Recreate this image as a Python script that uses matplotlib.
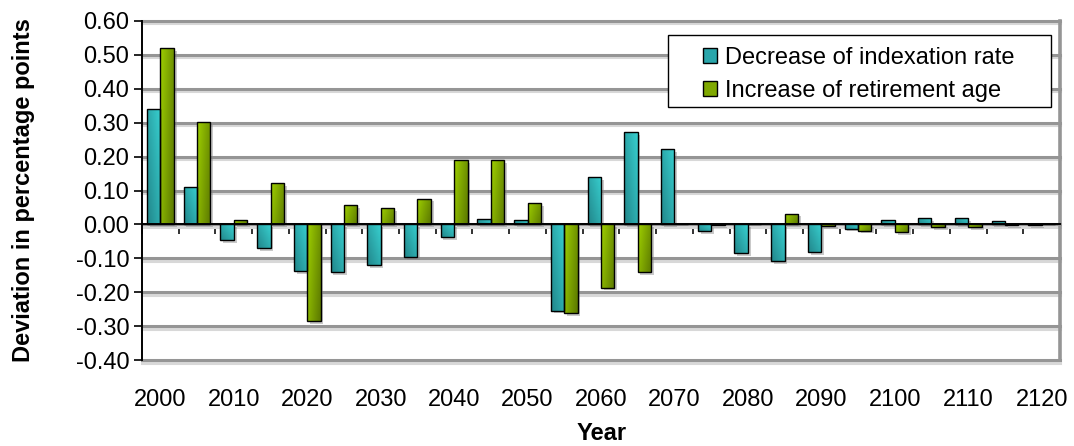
import numpy as np
import matplotlib
matplotlib.use("Agg")
import matplotlib.pyplot as plt
import matplotlib.patheffects as pe
from matplotlib.patches import Rectangle
from matplotlib.colors import to_rgb

plt.rcParams['font.family'] = ['Liberation Sans', 'DejaVu Sans']
plt.rcParams['axes.unicode_minus'] = False

years = [2000, 2005, 2010, 2015, 2020, 2025, 2030, 2035, 2040, 2045, 2050, 2055,
         2060, 2065, 2070, 2075, 2080, 2085, 2090, 2095, 2100, 2105, 2110, 2115, 2120]
indexation = [0.340, 0.111, -0.047, -0.070, -0.138, -0.141, -0.120, -0.096, -0.037,
              0.016, 0.013, -0.254, 0.140, 0.271, 0.222, -0.020, -0.085, -0.107,
              -0.082, -0.012, 0.013, 0.019, 0.018, 0.009, -0.002]
retirement = [0.520, 0.302, 0.012, 0.121, -0.284, 0.056, 0.048, 0.076, 0.190,
              0.190, 0.062, -0.261, -0.186, -0.140, 0.002, -0.003, 0.002, 0.032,
              -0.005, -0.018, -0.022, -0.008, -0.008, -0.003, 0.001]
series_names = ["Decrease of indexation rate", "Increase of retirement age"]
label_years = [2000, 2010, 2020, 2030, 2040, 2050, 2060, 2070, 2080, 2090, 2100, 2110, 2120]
yticks = [0.6, 0.5, 0.4, 0.3, 0.2, 0.1, 0.0, -0.1, -0.2, -0.3, -0.4]

W, H = 1074, 446
fig = plt.figure(figsize=(W / 100, H / 100), dpi=100)
ax = fig.add_axes([142 / W, 1 - 360.3 / H, (1060 - 142) / W, (360.3 - 20.7) / H])

FS = 17
x = np.arange(len(years))
bw = 0.365

teal_light, teal_dark = np.array(to_rgb('#38d0d0')), np.array(to_rgb('#1a6c72'))
green_light, green_dark = np.array(to_rgb('#9fd000')), np.array(to_rgb('#4a6200'))

def grad_array(kind, n=40):
    u = np.linspace(0, 1, n)[None, :]   # left -> right
    v = np.linspace(0, 1, n)[:, None]   # top -> bottom
    if kind == 'teal':
        L = 0.55 * u + 0.45 * (1 - v)
        L = 0.25 + 0.75 * L
        lo, hi = teal_dark, teal_light
    else:
        L = 0.7 * (1 - u) + 0.3 * (1 - v)
        L = 0.2 + 0.8 * L
        lo, hi = green_dark, green_light
    L = np.clip(L, 0, 1)[..., None]
    return lo + (hi - lo) * L

shadow = [pe.SimplePatchShadow(offset=(2, -2), shadow_rgbFace='#888888', alpha=0.45), pe.Normal()]

for vals, off, kind, mid, name in [(indexation, -bw / 2, 'teal', '#2aa6ab', series_names[0]),
                                   (retirement, bw / 2, 'green', '#7fa800', series_names[1])]:
    bars = ax.bar(x + off, vals, width=bw, color=mid, edgecolor='none', zorder=2)
    for b in bars:
        b.set_path_effects(shadow)
        x0, y0 = b.get_x(), b.get_y()
        w, h = b.get_width(), b.get_height()
        ylo, yhi = min(y0, y0 + h), max(y0, y0 + h)
        im = ax.imshow(grad_array(kind), extent=(x0, x0 + w, ylo, yhi), origin='upper',
                       aspect='auto', interpolation='bilinear', zorder=2.5)
        im.set_clip_path(b)
    ax.bar(x + off, vals, width=bw, facecolor='none', edgecolor='black', linewidth=1.0, zorder=3)

ax.set_xlim(-0.5, len(years) - 0.5)
ax.set_ylim(-0.4, 0.6)
ax.set_yticks(yticks)
ax.set_yticklabels([f"{t:.2f}" for t in yticks], fontsize=FS)
ax.tick_params(axis='y', direction='out', length=6, width=1.2, color='black', pad=3)

# grid
ax.set_axisbelow(True)
ax.yaxis.grid(True, color='#959595', linewidth=2.2)
for gl in ax.get_ygridlines():
    gl.set_clip_on(False)
    gl.set_path_effects([pe.SimpleLineShadow(offset=(0, -2), shadow_color='#d8d8d8', alpha=1.0),
                         pe.Normal()])

# spines
ax.spines['top'].set_visible(False)
ax.spines['left'].set_color('black')
ax.spines['left'].set_linewidth(1.4)
ax.spines['right'].set_color('#959595')
ax.spines['right'].set_linewidth(2.6)
ax.spines['bottom'].set_position(('data', 0))
ax.spines['bottom'].set_color('black')
ax.spines['bottom'].set_linewidth(1.4)
ax.spines['bottom'].set_zorder(4)
ax.set_xticks(np.arange(len(years) + 1) - 0.5)
ax.set_xticklabels([])
ax.tick_params(axis='x', direction='out', length=7, width=1.3, color='#222222')

# category labels below plot
sec = ax.secondary_xaxis(0)
sec.set_xticks([years.index(y) for y in label_years], labels=[str(y) for y in label_years])
sec.tick_params(length=0, pad=21, labelsize=FS)
sec.spines['bottom'].set_visible(False)

fig.text(602 / W, 1 - 434 / H, "Year", fontsize=FS, fontweight='bold', ha='center', va='center')
fig.text(24 / W, 1 - 190 / H, "Deviation in percentage points", fontsize=FS,
         fontweight='bold', rotation=90, ha='center', va='center')

# legend
fig.patches.append(Rectangle((668 / W, 1 - 107 / H), 383 / W, 72 / H, transform=fig.transFigure,
                             facecolor='white', edgecolor='black', linewidth=1.0, zorder=5))
handles = [Rectangle((0, 0), 1, 1, facecolor='#2aa6ab', edgecolor='black', linewidth=1.0),
           Rectangle((0, 0), 1, 1, facecolor='#7fa800', edgecolor='black', linewidth=1.0)]
leg = fig.legend(handles, series_names, loc='upper left', bbox_to_anchor=(703 / W, 1 - 47 / H),
                 bbox_transform=fig.transFigure, frameon=False, fontsize=FS, borderpad=0,
                 borderaxespad=0, handlelength=0.6, handleheight=0.6, handletextpad=0.35,
                 labelspacing=0.45)
leg.set_zorder(6)

fig.savefig("out.png", dpi=100)
